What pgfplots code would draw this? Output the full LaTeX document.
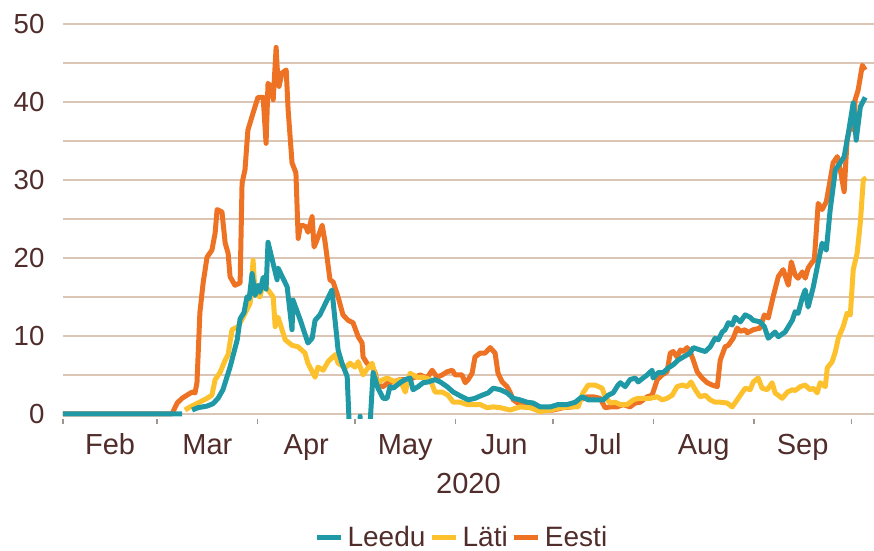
\documentclass[border=0pt]{standalone}
\usepackage{fontspec}
\setmainfont{Liberation Sans}
\usepackage{pgfplots}
\pgfplotsset{compat=1.18}
\usetikzlibrary{calc}

\definecolor{cLeedu}{RGB}{32,153,166}
\definecolor{cLati}{RGB}{253,193,45}
\definecolor{cEesti}{RGB}{238,114,36}
\definecolor{gridtan}{RGB}{219,198,181}
\definecolor{txt}{RGB}{80,45,42}
\definecolor{tickgray}{RGB}{160,150,145}
\newcommand\fsz{\fontsize{14.5}{17}\selectfont}
\newcommand\fsy{\fontsize{13.8}{16}\selectfont}

\begin{document}
\begin{tikzpicture}
\begin{axis}[
  scale only axis,
  width=405.5pt, height=197.3pt,
  xmin=0, xmax=250, ymin=-0.6, ymax=50,
  axis line style={draw=none},
  ytick={0,10,...,50},
  minor ytick={5,15,...,45},
  ymajorgrids, yminorgrids,
  major grid style={draw=gridtan, line width=0.75pt},
  minor grid style={draw=gridtan, line width=0.75pt},
  ytick style={draw=none},
  xtick={0,29,60,90,121,151,182,213,243},
  xticklabels={Feb,Mar,Apr,May,Jun,Jul,Aug,Sep},
  x tick label as interval,
  xtick pos=left, ytick pos=left,
  xtick style={draw=tickgray, line width=0.7pt},
  major tick length=2.6pt,
  tick align=outside,
  tick label style={font=\fsz, text=txt},
  xticklabel style={anchor=base, yshift=-15.2pt},
  yticklabel style={inner sep=0pt, xshift=-6.5pt, font=\fsy},
  xlabel={2020},
  xlabel style={at={(axis description cs:0.5,-0.165)}, anchor=center, inner sep=0pt},
  label style={font=\fsz, text=txt},
  /pgf/number format/assume math mode=true,
  unbounded coords=jump,
  legend columns=-1,
  reverse legend,
  legend style={at={(axis description cs:0.493,-0.302)}, anchor=center,
    draw=none, fill=none, font=\fontsize{14}{16}\selectfont, text=txt,
    /tikz/every even column/.append style={column sep=0pt},
    /tikz/every odd column/.append style={column sep=0pt}},
  legend image code/.code={\draw[#1, line width=2.6pt] (0pt,0pt) -- (12pt,0pt);},
  every axis plot/.append style={line width=2.5pt, line join=round},
  no markers,
]
% Eesti
\addplot[cEesti] coordinates {
(0,0)(33.6,0)(35.2,1.4)(36.7,2.0)(38.2,2.4)(39.8,2.8)(40.7,2.7)(41.3,4.0)(42.2,13.0)(43.2,16.8)
(44.4,20.1)(45.9,21.0)(46.9,23.2)(47.5,26.2)(49.0,25.9)(50.0,21.9)(50.9,20.6)(51.5,17.6)(53.0,16.5)
(54.6,16.8)(55.2,29.6)(56.1,31.3)(57.0,36.4)(58.6,38.6)(60.1,40.6)(61.7,40.6)(62.6,34.7)(63.2,42.4)
(64.4,41.8)(64.8,40.3)(65.7,47.0)(66.0,44.5)(66.6,42.0)(67.5,43.7)(68.8,44.1)(69.4,39.0)(70.6,32.2)
(71.8,30.9)(72.5,22.5)(73.1,24.0)(73.7,24.2)(74.9,24.0)(75.5,23.3)(76.8,25.3)(77.4,21.4)(78.3,22.3)
(79.9,24.2)(80.8,22.0)(82.3,17.2)(83.3,16.9)(84.8,15.0)(86.3,12.7)(87.9,12.0)(89.4,11.7)(91.0,9.9)
(92.2,9.1)(92.5,7.3)(93.7,6.5)(95.3,6.0)(96.2,5.3)(97.1,3.7)(98.7,3.5)(100.2,4.0)(101.8,4.1)
(103.9,4.4)(106.1,4.4)(107.9,4.6)(110.1,5.0)(112.2,4.6)(113.8,5.6)(115.3,4.7)(116.9,5.0)(118.4,5.4)
(120.0,5.6)(120.9,5.0)(123.0,5.0)(124.0,4.0)(124.9,4.4)(126.1,5.2)(127.0,7.3)(128.6,7.8)(130.1,7.8)
(131.7,8.5)(133.2,7.8)(134.1,5.2)(135.4,4.1)(136.9,3.5)(137.8,2.8)(138.8,1.8)(140.9,1.2)(143.1,0.9)
(144.9,0.9)(148.0,0.5)(151.1,0.5)(154.2,0.8)(157.0,0.9)(159.4,1.8)(161.6,2.2)(163.4,2.2)(165.6,2.0)
(167.1,0.8)(168.7,0.9)(170.8,0.9)(172.7,1.2)(174.8,0.9)(176.4,1.4)(177.9,1.5)(180.1,2.2)(181.6,2.4)
(183.2,4.4)(184.7,5.0)(186.2,5.4)(187.2,7.8)(188.1,8.0)(189.3,7.3)(190.3,8.2)(191.2,8.0)(192.4,8.5)
(193.3,8.0)(194.3,6.9)(195.5,5.4)(197.0,4.6)(198.6,4.0)(200.1,3.7)(201.7,3.5)(202.6,6.9)(204.1,8.6)
(205.1,8.8)(206.6,9.7)(207.8,11.0)(208.8,10.6)(210.3,10.8)(210.9,10.4)(212.8,10.8)(214.9,11.0)
(216.2,12.7)(217.4,12.3)(218.9,15.0)(220.5,17.6)(222.0,18.5)(223.6,16.5)(224.5,19.5)(225.7,17.8)
(226.6,17.4)(227.9,18.2)(228.8,17.4)(229.7,18.7)(231.0,19.5)(231.6,19.7)(232.8,27.0)(234.0,26.2)
(235.3,27.2)(236.5,30.0)(237.4,32.2)(238.7,33.0)(239.6,31.3)(240.8,28.5)(241.7,35.1)(242.7,37.0)
(243.6,36.4)(244.2,40.3)(245.1,41.5)(246.4,44.7)(247.3,44.1)
};
\addlegendentry{Eesti}
% Läti
\addplot[cLati] coordinates {
(37.6,0.5)(39.2,0.9)(41.6,1.4)(44.4,2.0)(45.9,2.4)(46.9,4.4)(48.4,5.3)(50.0,6.9)(50.9,7.6)(52.1,10.8)
(54.0,11.2)(55.5,12.4)(57.7,14.2)(58.6,19.7)(59.2,15.5)(60.7,15.0)(61.7,16.8)(63.2,15.9)(64.8,15.0)
(65.4,11.2)(66.3,12.4)(68.5,9.5)(70.6,8.8)(72.5,8.6)(74.6,7.8)(75.5,6.5)(77.7,4.7)(78.6,6.0)(80.2,5.6)
(81.7,6.7)(83.9,7.6)(84.8,6.5)(87.0,5.9)(88.5,6.5)(90.0,6.0)(91.0,6.7)(92.5,5.0)(94.0,5.9)(95.3,6.5)
(96.8,4.0)(98.7,4.4)(99.9,4.6)(102.4,4.1)(103.9,4.4)(105.5,2.8)(107.0,5.2)(109.2,4.7)(111.0,4.7)
(113.2,4.4)(114.7,2.8)(116.9,2.8)(118.7,2.4)(120.3,1.5)(122.4,1.5)(124.6,1.2)(128.6,1.2)(130.7,0.8)
(132.6,0.9)(134.8,0.8)(137.8,0.5)(140.9,0.9)(144.0,0.8)(147.1,0.3)(150.2,0.5)(153.3,0.8)(156.3,0.9)
(158.8,0.9)(160.3,2.7)(161.9,3.7)(164.0,3.7)(166.2,3.3)(167.1,2.2)(168.7,1.4)(170.2,1.5)(171.8,1.2)
(173.9,1.2)(175.8,1.8)(177.3,2.0)(179.5,2.0)(181.0,2.0)(183.2,2.2)(184.7,1.8)(186.2,2.0)(187.8,2.4)
(189.3,3.5)(190.9,3.7)(192.4,3.5)(193.6,4.1)(194.9,3.1)(196.4,2.2)(198.0,2.4)(199.5,1.8)(201.0,1.5)
(202.6,1.5)(204.7,1.4)(206.3,0.9)(207.8,1.8)(208.8,2.4)(210.3,3.3)(211.8,3.1)(212.8,4.1)(214.3,4.6)
(215.5,3.3)(217.1,3.1)(218.6,4.0)(219.5,2.7)(221.7,2.0)(223.3,2.8)(224.8,3.1)(225.7,3.0)(227.3,3.5)
(228.8,3.7)(230.3,3.1)(231.3,3.3)(232.5,2.7)(233.4,4.0)(235.0,3.5)(235.6,5.9)(237.1,6.7)(238.1,8.0)
(239.0,9.7)(240.5,11.2)(241.7,12.9)(242.7,12.7)(243.6,18.5)(244.8,20.6)(245.8,24.6)(246.7,30.0)
(247.6,30.3)
};
\addlegendentry{Läti}
% Leedu
\addplot[cLeedu] coordinates {
(0,0)(36.7,0)(38,nan)(39.8,0.5)(41.6,0.8)(44.4,1.0)(46.2,1.3)(47.8,2.0)(49.3,3.1)(51.5,6.0)(53.7,9.5)
(54.6,12.2)(55.8,13.0)(56.7,15.0)(57.4,14.8)(58.3,18.0)(59.2,15.2)(60.1,16.5)(60.7,15.6)(61.7,17.5)
(62.6,16.0)(63.2,22.0)(66.0,17.2)(66.3,18.7)(69.1,16.3)(70.6,10.8)(70.9,14.6)(73.1,12.1)(75.5,9.1)
(76.8,9.7)(77.7,12.0)(79.2,12.7)(81.4,14.6)(82.9,15.9)(84.8,8.2)(86.0,6.5)(87.6,4.8)(88.2,-1)
(89.0,-8)(91.0,-8)(91.6,-0.3)(92.2,-8)(94.0,-8)(94.7,-1)(95.6,5.3)(97.1,3.3)(98.7,2.0)(99.9,2.0)
(100.8,3.5)(101.8,3.3)(103.9,4.0)(105.5,4.4)(107.0,4.6)(107.9,3.1)(109.5,3.5)(111.0,4.0)(112.6,4.1)
(114.7,4.4)(116.3,4.1)(118.4,3.5)(120.3,2.8)(123.0,2.2)(124.9,1.8)(127.0,2.0)(129.2,2.4)(131.1,2.7)
(132.6,3.3)(134.8,3.1)(136.9,2.7)(138.8,2.0)(140.9,1.8)(143.1,1.5)(144.9,1.4)(147.1,0.9)(150.2,0.9)
(152.6,1.2)(155.4,1.2)(157.9,1.5)(160.0,2.2)(161.9,1.8)(164.7,1.8)(166.5,1.8)(168.1,2.4)(169.6,2.7)
(171.1,3.7)(171.8,4.0)(173.3,3.5)(174.8,4.4)(176.4,4.6)(177.3,4.1)(178.8,4.6)(180.1,5.0)(181.6,5.6)
(181.9,4.6)(183.5,5.3)(185.0,5.3)(186.6,5.9)(188.1,6.3)(189.6,6.9)(191.2,7.3)(193.3,7.8)(194.3,8.5)
(196.4,8.2)(198.0,8.0)(199.5,8.6)(201.0,9.7)(202.0,9.5)(203.2,10.5)(204.1,10.8)(205.1,11.7)(206.3,11.4)
(207.2,12.4)(208.8,11.8)(210.3,12.7)(211.8,12.4)(212.8,12.0)(214.9,11.8)(216.2,11.2)(217.4,9.7)
(219.5,10.5)(220.5,9.9)(222.6,10.5)(224.8,12.0)(225.7,13.1)(226.6,12.9)(227.9,14.9)(228.8,15.9)
(229.7,13.7)(231.3,16.3)(232.5,18.8)(234.0,21.9)(235.3,21.0)(236.5,26.2)(238.1,31.3)(239.6,32.2)
(240.8,33.0)(242.1,36.0)(243.6,39.9)(244.5,35.1)(245.8,39.4)(247.3,40.6)
};
\addlegendentry{Leedu}
\end{axis}
\pgfresetboundingbox
\path[use as bounding box] ($(current axis.south west)+(-31.5pt,-66.15pt)$) rectangle ($(current axis.north east)+(0pt,12pt)$);
\end{tikzpicture}
\end{document}
